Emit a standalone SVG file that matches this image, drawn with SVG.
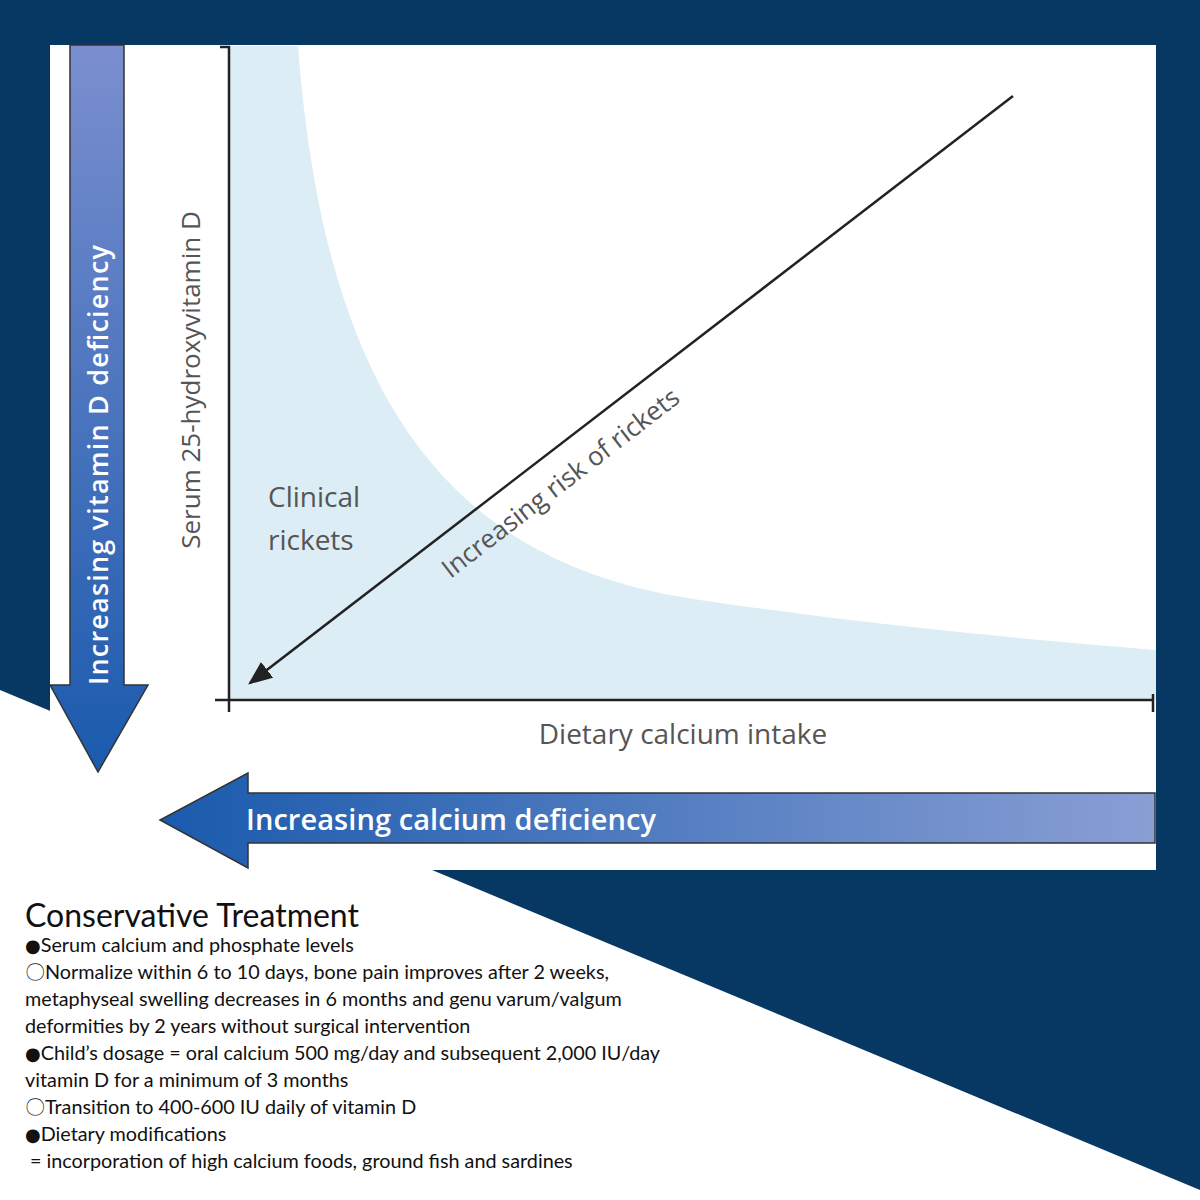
<svg xmlns="http://www.w3.org/2000/svg" width="1200" height="1200" viewBox="0 0 1200 1200">
<defs>
<linearGradient id="gv" x1="0" y1="0" x2="0" y2="1"><stop offset="0" stop-color="#7b8fcf"/><stop offset="1" stop-color="#1a5aad"/></linearGradient>
<linearGradient id="gh" x1="0" y1="0" x2="1" y2="0"><stop offset="0" stop-color="#1a5aad"/><stop offset="1" stop-color="#8a9fd4"/></linearGradient>
<marker id="ah" viewBox="0 0 10 10" refX="9" refY="5" markerWidth="24" markerHeight="20" markerUnits="userSpaceOnUse" orient="auto" preserveAspectRatio="none"><path d="M0,0 L10,5 L0,10 z" fill="#222"/></marker>
<style>
.g{font-family:"Open Sans","Liberation Sans",sans-serif;fill:#555}
.w{font-family:"Open Sans","Liberation Sans",sans-serif;fill:#fff}
.t{font-family:Lato,"Liberation Sans",sans-serif;fill:#111;font-size:19.8px}
.b{font-family:"DejaVu Sans",sans-serif;font-size:18px}
</style>
</defs>
<rect width="1200" height="1200" fill="#073763"/>
<polygon points="0,690 1200,1190 1200,1200 0,1200" fill="#fff"/>
<rect x="50" y="45" width="1106" height="825" fill="#fff"/>
<path d="M229,46 L298,46 C325,400 450,565 700,600 C900,630 1100,645 1156,650 L1156,700 L229,700 Z" fill="#dcedf5"/>
<g id="vitD-arrow">
<polygon points="70,45 124,45 124,685 148,685 98,772 50,685 70,685" fill="url(#gv)" stroke="#333" stroke-width="1.5"/>
<text class="w" transform="translate(108,465) rotate(-90)" text-anchor="middle" font-size="27" font-weight="600" textLength="440">Increasing vitamin D deficiency</text>
</g>
<g id="calcium-arrow">
<polygon points="1155,793 1155,843 248,843 248,868 160,820 248,773 248,793" fill="url(#gh)" stroke="#333" stroke-width="1.5"/>
<text class="w" x="246" y="830" font-size="29" font-weight="600" textLength="410">Increasing calcium deficiency</text>
</g>
<g id="axes" stroke="#222" stroke-width="2.5" fill="none">
<path d="M220,47 L229,47 L229,712"/>
<path d="M215,700 L1153,700 M1153,694 L1153,712"/>
</g>
<g id="connectors">
<line x1="1013" y1="96" x2="250" y2="683" stroke="#222" stroke-width="2.5" marker-end="url(#ah)"/>
</g>
<text class="g" transform="translate(200,380) rotate(-90)" text-anchor="middle" font-size="26">Serum 25-hydroxyvitamin D</text>
<text class="g" font-size="28" x="268" y="507">Clinical</text>
<text class="g" font-size="28" x="268" y="550">rickets</text>
<text class="g" font-size="28" x="683" y="744" text-anchor="middle">Dietary calcium intake</text>
<text class="g" font-size="26" transform="translate(566,490) rotate(-37.6)" text-anchor="middle">Increasing risk of rickets</text>
<g id="notes">
<text x="25" y="927" font-family="Lato,'Liberation Sans',sans-serif" font-size="32" fill="#111">Conservative Treatment</text>
<text class="t" x="25" y="952"><tspan class="b">●</tspan>Serum calcium and phosphate levels</text>
<text class="t" x="25" y="979">〇Normalize within 6 to 10 days, bone pain improves after 2 weeks,</text>
<text class="t" x="25" y="1006">metaphyseal swelling decreases in 6 months and genu varum/valgum</text>
<text class="t" x="25" y="1033">deformities by 2 years without surgical intervention</text>
<text class="t" x="25" y="1060"><tspan class="b">●</tspan>Child’s dosage = oral calcium 500 mg/day and subsequent 2,000 IU/day</text>
<text class="t" x="25" y="1087">vitamin D for a minimum of 3 months</text>
<text class="t" x="25" y="1114">〇Transition to 400-600 IU daily of vitamin D</text>
<text class="t" x="25" y="1141"><tspan class="b">●</tspan>Dietary modifications</text>
<text class="t" x="30" y="1168">= incorporation of high calcium foods, ground fish and sardines</text>
</g>
</svg>
